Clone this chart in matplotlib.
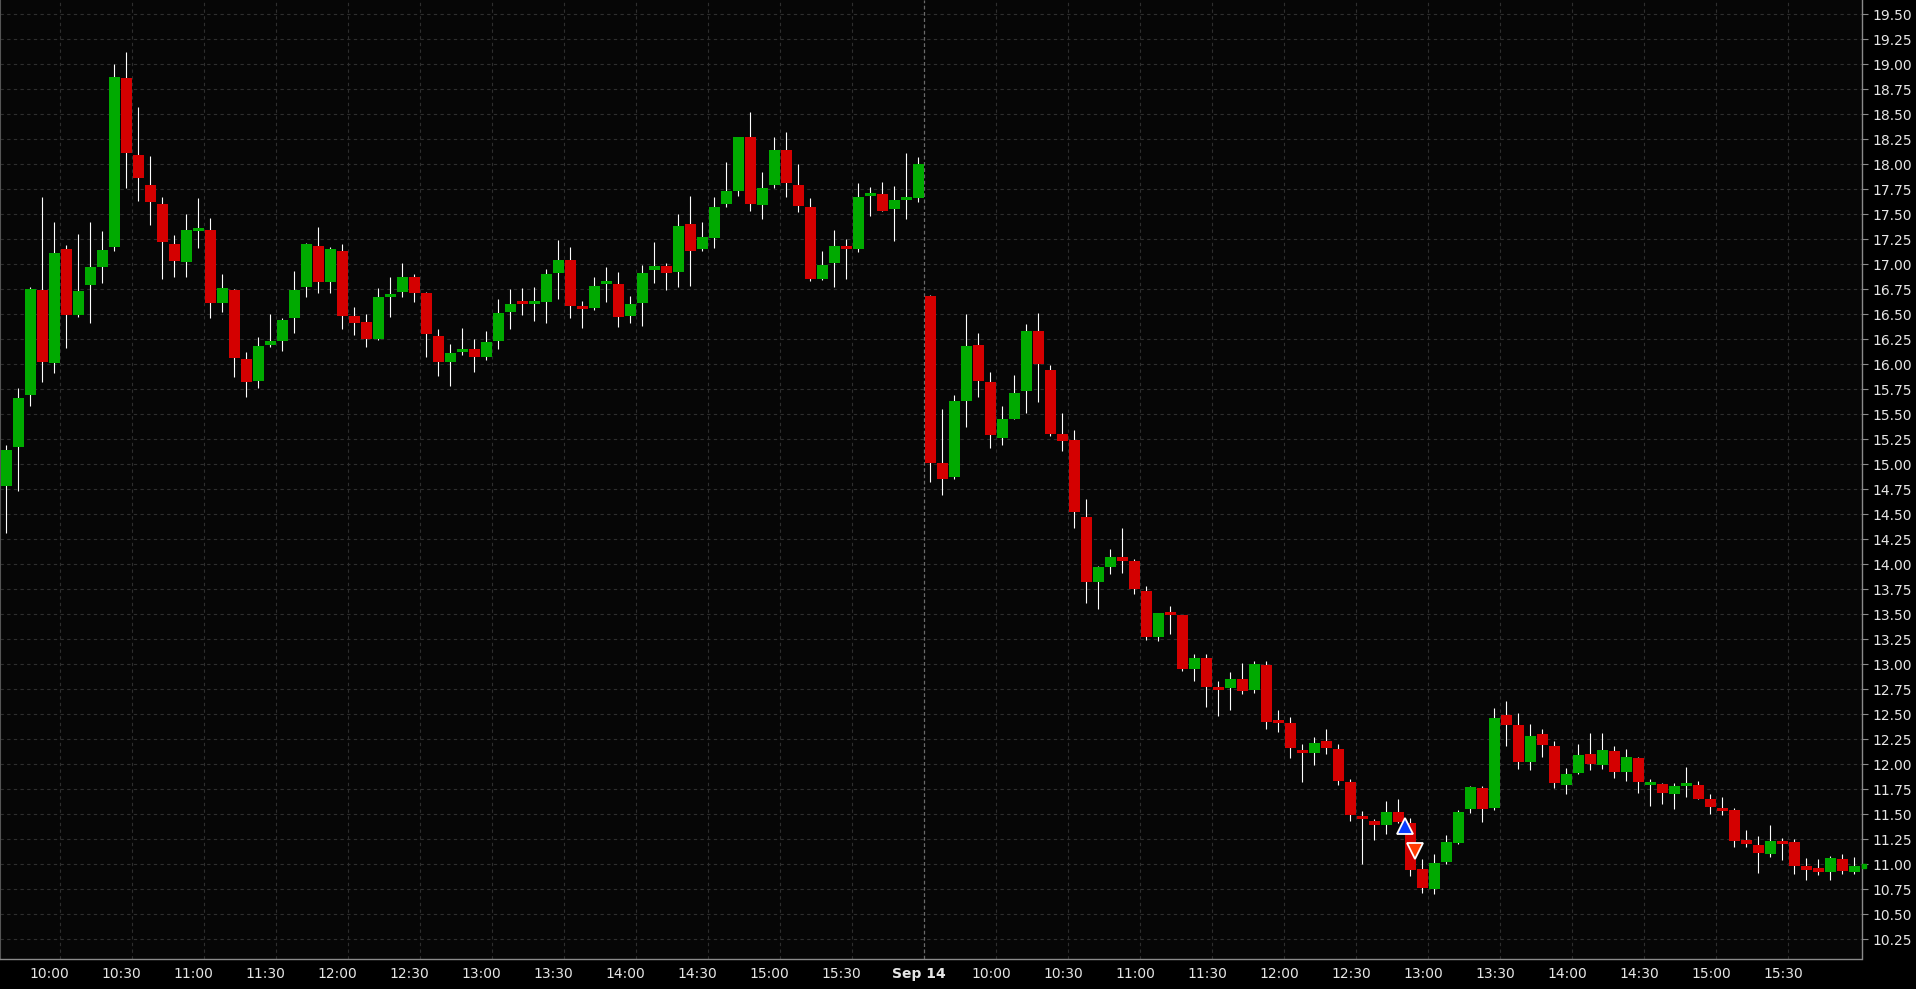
import matplotlib
matplotlib.use('Agg')
import matplotlib.pyplot as plt
import numpy as np

# ---------------- data (5-minute candles, two sessions) ----------------
opens = [14.78, 15.17, 15.69, 16.74, 16.01, 17.15, 16.49, 16.79, 16.97, 17.17,
         18.86, 18.09, 17.79, 17.60, 17.20, 17.02, 17.33, 17.34, 16.61, 16.74,
         16.05, 15.83, 16.19, 16.23, 16.46, 16.77, 17.18, 16.82, 17.13, 16.48,
         16.42, 16.25, 16.67, 16.72, 16.87, 16.71, 16.28, 16.02, 16.12, 16.15,
         16.07, 16.23, 16.52, 16.63, 16.60, 16.62, 16.91, 17.04, 16.57, 16.56,
         16.80, 16.80, 16.48, 16.61, 16.94, 16.98, 16.92, 17.40, 17.15, 17.26,
         17.60, 17.73, 18.27, 17.59, 17.79, 18.14, 17.79, 17.57, 16.85, 17.01,
         17.18, 17.15, 17.68, 17.70, 17.55, 17.64, 17.66,
         16.68, 15.01, 14.87, 15.63, 16.19, 15.82, 15.26, 15.45, 15.73, 16.33,
         15.94, 15.30, 15.24, 14.47, 13.82, 13.97, 14.07, 14.03, 13.73, 13.27,
         13.51, 13.49, 12.95, 13.06, 12.75, 12.76, 12.85, 12.74, 12.99, 12.43,
         12.41, 12.14, 12.11, 12.23, 12.15, 11.82, 11.48, 11.43, 11.39, 11.52,
         11.41, 10.95, 10.75, 11.02, 11.21, 11.55, 11.76, 11.56, 12.49, 12.39,
         12.02, 12.30, 12.18, 11.79, 11.91, 12.10, 11.99, 12.13, 11.92, 12.06,
         11.79, 11.80, 11.70, 11.78, 11.79, 11.65, 11.55, 11.54, 11.24, 11.19,
         11.10, 11.23, 11.22, 10.98, 10.96, 10.92, 11.05, 10.92]
highs = [15.19, 15.76, 16.77, 17.67, 17.42, 17.19, 17.30, 17.42, 17.33, 19.00,
         19.12, 18.57, 18.08, 17.67, 17.29, 17.50, 17.66, 17.46, 16.90, 16.75,
         16.12, 16.27, 16.50, 16.46, 16.93, 17.21, 17.37, 17.17, 17.20, 16.57,
         16.50, 16.76, 16.87, 17.01, 16.90, 16.72, 16.35, 16.20, 16.36, 16.25,
         16.33, 16.65, 16.75, 16.76, 16.77, 16.95, 17.24, 17.17, 16.63, 16.87,
         16.97, 16.92, 16.68, 16.99, 17.22, 17.01, 17.50, 17.68, 17.42, 17.67,
         18.02, 18.27, 18.52, 17.92, 18.27, 18.32, 18.00, 17.66, 17.13, 17.34,
         17.25, 17.81, 17.77, 17.82, 17.78, 18.11, 18.07,
         16.69, 15.55, 15.69, 16.50, 16.31, 15.92, 15.58, 15.89, 16.40, 16.51,
         15.99, 15.51, 15.34, 14.65, 13.98, 14.15, 14.36, 14.05, 13.78, 13.51,
         13.58, 13.49, 13.10, 13.10, 12.83, 12.92, 13.01, 13.03, 13.03, 12.54,
         12.47, 12.20, 12.27, 12.35, 12.20, 11.85, 11.53, 11.45, 11.63, 11.65,
         11.46, 11.05, 11.10, 11.29, 11.54, 11.78, 11.78, 12.56, 12.63, 12.51,
         12.40, 12.35, 12.23, 11.96, 12.20, 12.31, 12.31, 12.18, 12.15, 12.07,
         11.85, 11.81, 11.81, 11.97, 11.83, 11.70, 11.67, 11.56, 11.34, 11.28,
         11.39, 11.26, 11.25, 11.06, 11.05, 11.08, 11.10, 11.07]
lows = [14.31, 14.73, 15.58, 15.82, 15.91, 16.16, 16.47, 16.41, 16.81, 17.13,
        17.76, 17.63, 17.39, 16.85, 16.87, 16.87, 17.16, 16.46, 16.52, 15.87,
        15.67, 15.76, 16.17, 16.13, 16.31, 16.67, 16.71, 16.71, 16.35, 16.29,
        16.17, 16.24, 16.47, 16.67, 16.62, 16.07, 15.88, 15.78, 16.09, 15.92,
        16.04, 16.15, 16.35, 16.49, 16.43, 16.41, 16.65, 16.46, 16.36, 16.54,
        16.62, 16.37, 16.41, 16.38, 16.81, 16.74, 16.77, 16.78, 17.13, 17.16,
        17.57, 17.68, 17.53, 17.45, 17.76, 17.67, 17.52, 16.83, 16.84, 16.77,
        16.85, 17.12, 17.48, 17.53, 17.23, 17.45, 17.62,
        14.82, 14.69, 14.85, 15.37, 15.67, 15.16, 15.19, 15.45, 15.51, 15.62,
        15.28, 15.13, 14.36, 13.61, 13.55, 13.90, 13.91, 13.70, 13.24, 13.23,
        13.30, 12.93, 12.83, 12.57, 12.48, 12.54, 12.70, 12.71, 12.35, 12.32,
        12.06, 11.82, 11.99, 12.10, 11.79, 11.43, 11.00, 11.24, 11.30, 11.41,
        10.88, 10.71, 10.70, 11.00, 11.20, 11.51, 11.42, 11.54, 12.18, 11.95,
        11.94, 12.07, 11.76, 11.70, 11.90, 11.94, 11.95, 11.86, 11.83, 11.71,
        11.58, 11.60, 11.55, 11.67, 11.65, 11.50, 11.49, 11.17, 11.17, 10.91,
        11.07, 11.04, 10.90, 10.84, 10.89, 10.84, 10.90, 10.90]
closes = [15.14, 15.66, 16.75, 16.02, 17.11, 16.49, 16.73, 16.97, 17.14, 18.87,
          18.11, 17.86, 17.62, 17.22, 17.03, 17.34, 17.36, 16.61, 16.76, 16.06,
          15.82, 16.18, 16.23, 16.44, 16.74, 17.20, 16.82, 17.15, 16.48, 16.41,
          16.25, 16.67, 16.69, 16.87, 16.71, 16.30, 16.02, 16.11, 16.15, 16.07,
          16.22, 16.51, 16.60, 16.60, 16.61, 16.90, 17.04, 16.58, 16.55, 16.78,
          16.83, 16.47, 16.60, 16.91, 16.98, 16.91, 17.38, 17.13, 17.27, 17.57,
          17.73, 18.27, 17.60, 17.76, 18.14, 17.81, 17.58, 16.85, 16.99, 17.18,
          17.15, 17.67, 17.70, 17.53, 17.64, 17.65, 18.00,
          15.01, 14.85, 15.63, 16.18, 15.83, 15.29, 15.45, 15.71, 16.33, 16.00,
          15.30, 15.23, 14.52, 13.82, 13.97, 14.07, 14.03, 13.75, 13.27, 13.51,
          13.49, 12.95, 13.06, 12.77, 12.74, 12.85, 12.73, 13.00, 12.42, 12.41,
          12.16, 12.11, 12.21, 12.16, 11.83, 11.49, 11.45, 11.39, 11.52, 11.42,
          10.94, 10.76, 11.01, 11.22, 11.52, 11.77, 11.55, 12.46, 12.39, 12.02,
          12.28, 12.19, 11.81, 11.90, 12.09, 12.00, 12.14, 11.92, 12.07, 11.82,
          11.81, 11.71, 11.78, 11.79, 11.65, 11.57, 11.53, 11.23, 11.20, 11.11,
          11.23, 11.20, 10.98, 10.94, 10.92, 11.06, 10.93, 10.98]

day1_labels = ['10:00', '10:30', '11:00', '11:30', '12:00', '12:30',
               '13:00', '13:30', '14:00', '14:30', '15:00', '15:30']
day2_labels = ['10:00', '10:30', '11:00', '11:30', '12:00', '12:30',
               '13:00', '13:30', '14:00', '14:30', '15:00', '15:30']
day_label = 'Sep 14'
day1_count = 77          # candles of the first session
day1_first_grid = 4      # index of last candle before 10:00 (first session)
day2_first_grid = 82     # index of last candle before 10:00 (second session)

price_ticks = [10.25, 10.50, 10.75, 11.00, 11.25, 11.50, 11.75, 12.00, 12.25,
               12.50, 12.75, 13.00, 13.25, 13.50, 13.75, 14.00, 14.25, 14.50,
               14.75, 15.00, 15.25, 15.50, 15.75, 16.00, 16.25, 16.50, 16.75,
               17.00, 17.25, 17.50, 17.75, 18.00, 18.25, 18.50, 18.75, 19.00,
               19.25, 19.50]

buy_signal_idx = [116.6]
buy_signal_price = [11.38]
sell_signal_idx = [117.4]
sell_signal_price = [11.13]

# ---------------- styling ----------------
GREEN = '#00aa00'
RED = '#d40000'
BG = '#060606'
GRID = '#2e2e2e'
TXT = '#e6e6e6'

W, H = 1916, 989
fig = plt.figure(figsize=(W / 100, H / 100), dpi=100, facecolor='black')
ax_left, ax_right_px, ax_bottom_px = 0, 1861.5, 30
ax = fig.add_axes([0, ax_bottom_px / H, ax_right_px / W, (H - ax_bottom_px) / H])
ax.set_facecolor(BG)

o = np.array(opens); h = np.array(highs); l = np.array(lows); c = np.array(closes)
x = np.arange(len(o))
up = c >= o
body_bottom = np.minimum(o, c)
body_h = np.maximum(np.abs(c - o), 0.03)

# grid
for p in price_ticks:
    ax.axhline(p, color=GRID, lw=0.8, ls=(0, (3, 3)), zorder=0)
grid1 = [day1_first_grid + 0.5 + 6 * i for i in range(len(day1_labels))]
grid2 = [day2_first_grid + 0.5 + 6 * i for i in range(len(day2_labels))]
for g in grid1 + grid2:
    ax.axvline(g, color=GRID, lw=0.8, ls=(0, (3, 3)), zorder=0)
sep = day1_count - 0.5
ax.axvline(sep, color='#6a6a6a', lw=0.9, ls=(0, (3, 2)), zorder=0)

# candles
ax.vlines(x, l, h, color='white', lw=0.8, zorder=2)
ax.bar(x[up], body_h[up], bottom=body_bottom[up], width=0.9, color=GREEN,
       linewidth=0, zorder=3)
ax.bar(x[~up], body_h[~up], bottom=body_bottom[~up], width=0.9, color=RED,
       linewidth=0, zorder=3)

# signals
ax.plot(buy_signal_idx, buy_signal_price, linestyle='none', marker='^', ms=11,
        mfc='#0a3cff', mec='white', mew=1.3, zorder=5)
ax.plot(sell_signal_idx, sell_signal_price, linestyle='none', marker='v', ms=11,
        mfc='#ff3a00', mec='white', mew=1.3, zorder=5)

# limits
ax.set_xlim(-0.525, 154.6)
ax.set_ylim(19.643 - 9.59, 19.643)

# axes / spines
for s in ['top']:
    ax.spines[s].set_visible(False)
ax.spines['left'].set_color('#555555')
ax.spines['left'].set_linewidth(0.8)
ax.spines['right'].set_color('#8a8a8a')
ax.spines['bottom'].set_color('#8a8a8a')
ax.spines['right'].set_linewidth(1.0)
ax.spines['bottom'].set_linewidth(1.0)

ax.set_xticks([])
ax.yaxis.tick_right()
ax.set_yticks(price_ticks)
ax.set_yticklabels(['%.2f' % p for p in price_ticks])
ax.tick_params(axis='y', colors='#8a8a8a', labelcolor=TXT, length=4, width=0.8,
               pad=4, labelsize=10)

# x labels
tr = ax.get_xaxis_transform()
for g, lab in zip(grid1, day1_labels):
    ax.text(g - 0.95, -0.016, lab, transform=tr, ha='center', va='center',
            color=TXT, fontsize=10)
for g, lab in zip(grid2, day2_labels):
    ax.text(g - 0.45, -0.016, lab, transform=tr, ha='center', va='center',
            color=TXT, fontsize=10)
ax.text(sep - 0.45, -0.016, day_label, transform=tr, ha='center', va='center',
        color=TXT, fontsize=10, fontweight='bold')

# last price marker on the axis
last = closes[-1]
ax.plot([1.0015], [last], transform=ax.get_yaxis_transform(), marker='s', ms=3,
        color=GREEN, clip_on=False, zorder=6)

fig.savefig('out.png', dpi=100, facecolor='black')
